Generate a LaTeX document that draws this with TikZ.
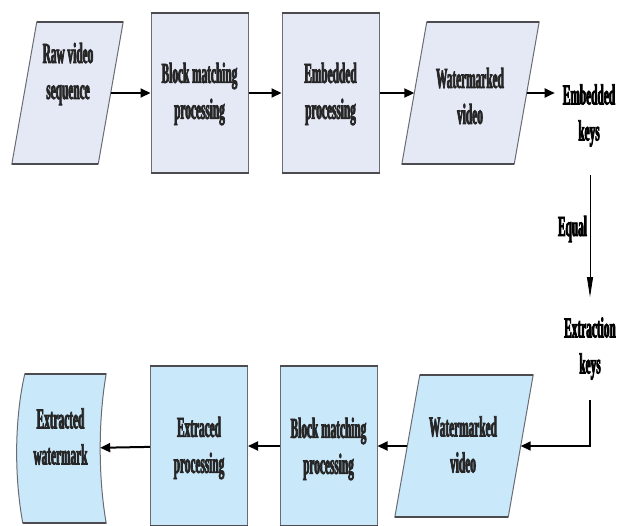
\documentclass[tikz,border=0pt]{standalone}
\usepackage{fontspec}
\newfontfamily\cond{Liberation Serif Bold}[FakeStretch=0.39, FakeBold=2.5]
\usetikzlibrary{arrows.meta,calc}
\definecolor{topfill}{RGB}{229,233,246}
\definecolor{botfill}{RGB}{201,232,250}
\definecolor{edgecol}{RGB}{105,108,115}
\definecolor{edgedark}{RGB}{75,75,80}
\begin{document}
\begin{tikzpicture}[x=1pt,y=-1pt,
  boxshape/.style={draw=edgecol, line width=1pt, inner sep=0pt},
  rectbox/.style={boxshape, rectangle, minimum width=97pt, minimum height=159pt},
  para/.style={rectangle, inner sep=0pt, minimum width=#1, minimum height=142pt},
  txt/.style={font=\cond\fontsize{29}{36}\selectfont, align=center, inner sep=0pt, text=black!85},
  arr/.style={line width=2pt, -{Triangle[length=10pt,width=9pt]}},
  thinarr/.style={line width=0.8pt, -{Triangle[length=20pt,width=6pt]}},
  edgeline/.style={draw=edgedark, line width=1.8pt}]
\useasboundingbox[fill=white] (0,0) rectangle (618,525);
% top row shapes (parallelogram frames are nodes, outlines drawn below)
\node[para=86pt] (raw) at (67.5,93) {};
\node[rectbox, fill=topfill] (bm1) at (199.5,93) {};
\node[rectbox, fill=topfill] (emb) at (330.5,93) {};
\node[para=112pt] (wm1) at (470.5,93) {};
% bottom row shapes
\node[minimum width=80pt, minimum height=149pt, inner sep=0pt] (exw) at (60,448.5) {};
\path[fill=botfill, draw=edgecol, line width=1pt]
  ($(exw.north west)+(5,0)$) -- ($(exw.north east)+(6,0)$)
  .. controls ($(exw.north east)+(-2,46)$) and ($(exw.south east)+(-2,-46)$) .. ($(exw.south east)+(6,0)$)
  -- ($(exw.south west)+(3,0)$)
  .. controls ($(exw.south west)+(-5.5,-46)$) and ($(exw.north west)+(-5.5,46)$) .. ($(exw.north west)+(5,0)$) -- cycle;
\draw[edgeline] ($(exw.north west)+(5,0)$) -- ($(exw.north east)+(6,0)$);
\draw[edgeline] ($(exw.south west)+(3,0)$) -- ($(exw.south east)+(6,0)$);
\node[rectbox, fill=botfill] (ep) at (199,446) {};
\node[rectbox, fill=botfill] (bm2) at (328.5,446) {};
\node[para=113pt] (wm2) at (464,446) {};
% parallelogram outlines
\foreach \n/\c in {raw/topfill, wm1/topfill, wm2/botfill}{
  \path[fill=\c, draw=edgecol, line width=1pt]
    ($(\n.north west)+(12.5,0)$) -- ($(\n.north east)+(12.5,0)$)
    -- ($(\n.south east)+(-12.5,0)$) -- ($(\n.south west)+(-12.5,0)$) -- cycle;
  \draw[edgeline] ($(\n.north west)+(12.5,0)$) -- ($(\n.north east)+(12.5,0)$)
    ($(\n.south east)+(-12.5,0)$) -- ($(\n.south west)+(-12.5,0)$);
}
% darker top and bottom edges
\foreach \n in {bm1,emb,ep,bm2}
  \draw[edgeline] (\n.north west) -- (\n.north east) (\n.south west) -- (\n.south east);
% texts
\node[txt] (rawt) at (68,74) {Raw video\\sequence};
\node[txt] (bm1t) at (199.5,94) {Block matching\\processing};
\node[txt] (embt) at (330.5,94) {Embedded\\processing};
\node[txt] (wm1t) at (470,96) {Watermarked\\video};
\node[txt, text=black] (ek) at (589,115.5) {Embedded\\keys};
\node[txt, text=black] (eq) at (572.5,229) {Equal};
\node[txt, text=black] (xk) at (590,348.5) {Extraction\\keys};
\node[txt] (exwt) at (60.5,436.5) {Extracted\\watermark};
\node[txt] (ept) at (199,448) {Extraced\\processing};
\node[txt] (bm2t) at (328.5,449) {Block matching\\processing};
\node[txt] (wm2t) at (463,444.5) {Watermarked\\video};
% connectors
\draw[arr] (raw) -- (bm1);
\draw[arr] (bm1) -- (emb);
\draw[arr] (emb) -- (wm1);
\draw[arr, shorten >=8pt] (wm1) -- (wm1 -| ek.west);
\draw[thinarr, shorten <=28pt, shorten >=20pt] (ek.south -| xk) -- (xk.north);
\draw[arr, line width=1.6pt, shorten <=20pt] (xk.south) |- (wm2);
\draw[arr] (wm2) -- (bm2);
\draw[arr] (bm2) -- (ep);
\draw[arr] (ep) -- (exw);
\end{tikzpicture}
\end{document}
